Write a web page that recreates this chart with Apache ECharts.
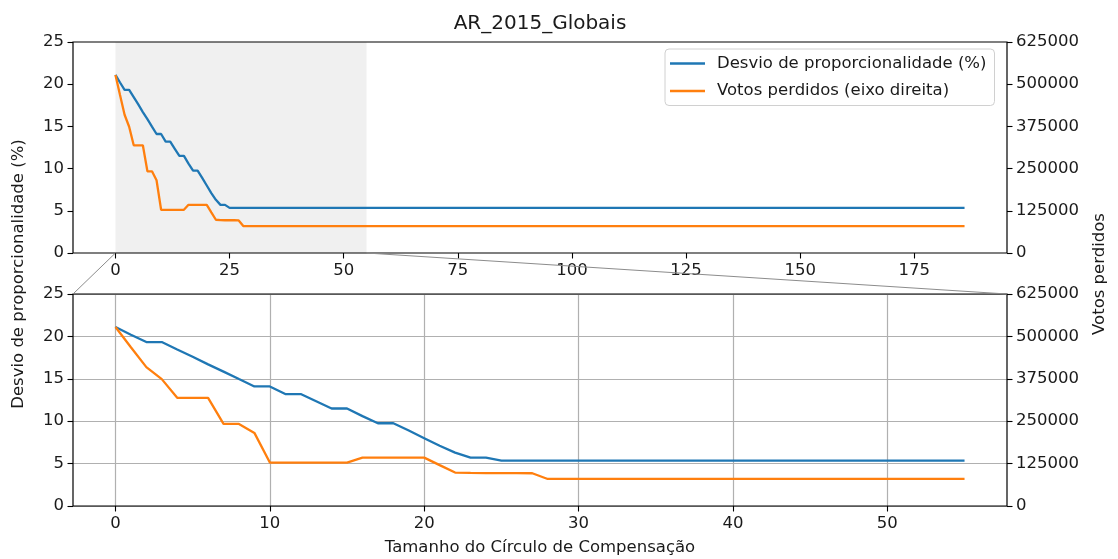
<!DOCTYPE html>
<html><head><meta charset="utf-8">
<script src="https://cdn.jsdelivr.net/npm/echarts@6/dist/echarts.min.js"></script>
<style>html,body{margin:0;padding:0;background:#fff}#c{width:1118px;height:559px}</style>
</head><body><div id="c"></div>
<script>
// ---- data ----
const sizes  = [0,1,2,3,4,5,6,7,8,9,10,11,12,13,14,15,16,17,18,19,20,21,22,23,24,25,26,27,28,55,186];
const desvio = [21.1,20.2,19.33,19.33,18.46,17.6,16.7,15.85,14.97,14.1,14.1,13.2,13.2,12.35,11.5,11.5,10.6,9.76,9.76,8.9,8.0,7.1,6.3,5.7,5.7,5.35,5.35,5.35,5.35,5.35,5.35];
const votos  = [527500,468000,409500,374000,319000,319000,319000,242000,242000,215500,128000,128000,128000,128000,128000,128000,142700,142700,142700,142700,142700,120500,98500,97500,97000,97000,97000,96500,79700,79700,79700];
const topXTicks  = [0,25,50,75,100,125,150,175];
const zoomXTicks = [0,10,20,30,40,50];
const zoomRange  = [0,55];
const seriesNames = ['Desvio de proporcionalidade (%)','Votos perdidos (eixo direita)'];
const titleText = 'AR_2015_Globais';
const xLabel = 'Tamanho do Círculo de Compensação';
const yLeftLabel = 'Desvio de proporcionalidade (%)';
const yRightLabel = 'Votos perdidos';

const FONT = 'DejaVu Sans';
const FS = 16.5;
const TXT = '#1a1a1a';
const BLUE = '#1f77b4', ORANGE = '#ff7f0e';

const dDesvio = sizes.map((x,i)=>[x,desvio[i]]);
const dVotos  = sizes.map((x,i)=>[x,votos[i]]);
const inZoom = p => p[0] >= zoomRange[0] && p[0] <= zoomRange[1];
const zDesvio = dDesvio.filter(inZoom);
const zVotos  = dVotos.filter(inZoom);

const chart = echarts.init(document.getElementById('c'), null, {renderer:'canvas'});

function xAx(grid, min, max, ticks, split){
  return {type:'value', gridIndex:grid, min:min, max:max,
    axisLine:{show:false, onZero:false},
    axisTick:{show:true, customValues:ticks, length:5.5, lineStyle:{color:'#000', width:1.1}},
    axisLabel:{customValues:ticks, fontSize:FS, fontFamily:FONT, color:TXT, margin:9, formatter:v=>String(v)},
    splitLine:{show:split, lineStyle:{color:'#b0b0b0', width:1.2}}};
}
function yAx(grid, pos, max, interval, split){
  return {type:'value', gridIndex:grid, position:pos, min:0, max:max, interval:interval,
    axisLine:{show:false, onZero:false},
    axisTick:{show:true, length:5.5, lineStyle:{color:'#000', width:1.1}},
    axisLabel:{fontSize:FS, fontFamily:FONT, color:TXT, margin:9, formatter:v=>String(v)},
    splitLine:{show:split, lineStyle:{color:'#b0b0b0', width:1.2}}};
}
function line(name, color, xi, yi, data, z){
  return {name:name, type:'line', xAxisIndex:xi, yAxisIndex:yi, data:data, showSymbol:false,
    symbol:'none', z:z, lineStyle:{color:color, width:2.3}, itemStyle:{color:color}, emphasis:{disabled:true}};
}

const s0 = line(seriesNames[0], BLUE, 0, 0, dDesvio, 3);
s0.markArea = {silent:true, itemStyle:{color:'#f0f0f0'}, data:[[{xAxis:zoomRange[0]},{xAxis:zoomRange[1]}]]};

chart.setOption({
  animation:false,
  backgroundColor:'#fff',
  grid:[
    {left:73, top:42, width:934, height:211, show:true, borderColor:'#000', borderWidth:1.2, z:10, backgroundColor:'transparent'},
    {left:73, top:294, width:934, height:212, show:true, borderColor:'#000', borderWidth:1.2, z:10, backgroundColor:'transparent'}
  ],
  xAxis:[
    xAx(0, -9.3, 195.3, topXTicks, false),
    xAx(1, -2.75, 57.75, zoomXTicks, true)
  ],
  yAxis:[
    yAx(0,'left',25,5,false),
    yAx(0,'right',625000,125000,false),
    yAx(1,'left',25,5,true),
    yAx(1,'right',625000,125000,false)
  ],
  legend:{
    data:seriesNames, orient:'vertical', left:665, top:49,
    padding:[6,8,6,5], itemGap:10.5, itemWidth:35, itemHeight:2.5, icon:'rect',
    backgroundColor:'rgba(255,255,255,0.8)', borderColor:'#d0d0d0', borderWidth:1, borderRadius:4,
    textStyle:{fontSize:FS, fontFamily:FONT, color:TXT, padding:[0,0,0,7]},
    selectedMode:false
  },
  series:[
    s0,
    line(seriesNames[1], ORANGE, 0, 1, dVotos, 4),
    line(seriesNames[0], BLUE, 1, 2, zDesvio, 3),
    line(seriesNames[1], ORANGE, 1, 3, zVotos, 4)
  ]
});

const A = chart.convertToPixel({xAxisIndex:0, yAxisIndex:0}, [zoomRange[0], 0]);
const C = chart.convertToPixel({xAxisIndex:0, yAxisIndex:0}, [zoomRange[1], 0]);
const B = chart.convertToPixel({xAxisIndex:1, yAxisIndex:2}, [-2.75, 25]);
const D = chart.convertToPixel({xAxisIndex:1, yAxisIndex:2}, [57.75, 25]);
const mid = (chart.convertToPixel({xAxisIndex:0, yAxisIndex:0},[0,25])[1] + chart.convertToPixel({xAxisIndex:1, yAxisIndex:2},[0,0])[1]) / 2;
const cx = (B[0] + D[0]) / 2;

chart.setOption({
  graphic:[
    {type:'line', silent:true, z:20, shape:{x1:A[0], y1:A[1], x2:B[0], y2:B[1]}, style:{stroke:'#8c8c8c', lineWidth:1}},
    {type:'line', silent:true, z:20, shape:{x1:C[0], y1:C[1], x2:D[0], y2:D[1]}, style:{stroke:'#8c8c8c', lineWidth:1}},
    {type:'text', silent:true, x:cx, y:24, style:{text:titleText, fontSize:20, fontFamily:FONT, fill:TXT, align:'center', verticalAlign:'middle'}},
    {type:'text', silent:true, x:cx, y:548, style:{text:xLabel, fontSize:FS, fontFamily:FONT, fill:TXT, align:'center', verticalAlign:'middle'}},
    {type:'text', silent:true, x:19, y:mid, rotation:Math.PI/2, style:{text:yLeftLabel, fontSize:FS, fontFamily:FONT, fill:TXT, align:'center', verticalAlign:'middle'}},
    {type:'text', silent:true, x:1100, y:mid, rotation:Math.PI/2, style:{text:yRightLabel, fontSize:FS, fontFamily:FONT, fill:TXT, align:'center', verticalAlign:'middle'}}
  ]
});
</script>
</body></html>
